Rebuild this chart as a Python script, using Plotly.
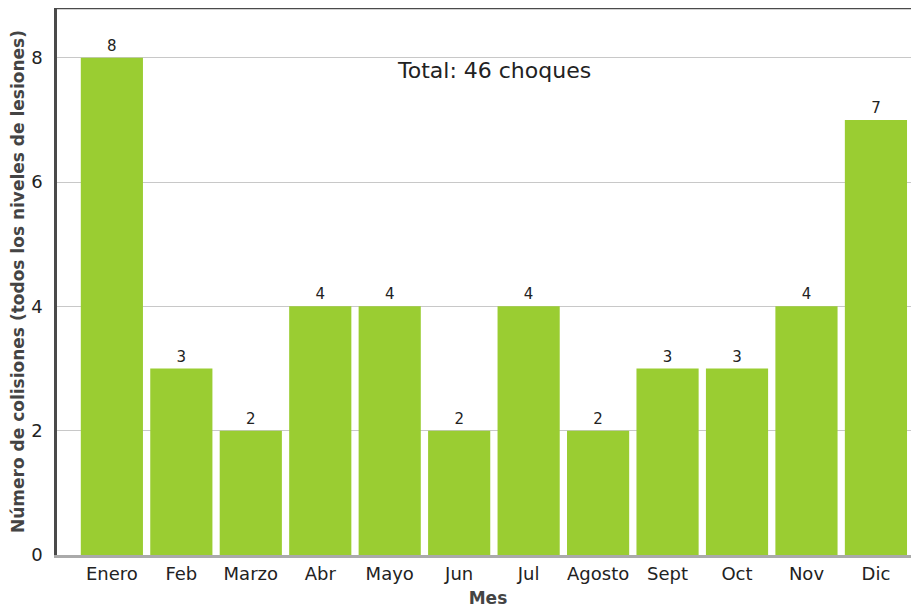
import plotly.graph_objects as go

months = ["Enero", "Feb", "Marzo", "Abr", "Mayo", "Jun", "Jul", "Agosto", "Sept", "Oct", "Nov", "Dic"]
collisions = [8, 3, 2, 4, 4, 2, 4, 2, 3, 3, 4, 7]
y_ticks = [0, 2, 4, 6, 8]
total_label = "Total: 46 choques"
x_title = "Mes"
y_title = "Número de colisiones (todos los niveles de lesiones)"

FONT = "'DejaVu Sans', sans-serif"

fig = go.Figure(go.Bar(
    x=months,
    y=collisions,
    marker=dict(color="#9acd32", line=dict(width=0)),
    text=[str(v) for v in collisions],
    textposition="outside",
    textfont=dict(size=15, color="#222222", family=FONT),
    cliponaxis=False,
))

fig.update_layout(
    width=911,
    height=603,
    margin=dict(l=49, r=0, t=0, b=56, autoexpand=False),
    paper_bgcolor="white",
    plot_bgcolor="white",
    bargap=0.105,
    showlegend=False,
    font=dict(family=FONT, color="#222222"),
    xaxis=dict(
        range=[-0.79, 11.62],
        showline=True,
        linecolor="#aaaaaa",
        linewidth=3,
        showgrid=False,
        ticks="",
        tickfont=dict(size=18, color="#222222", family=FONT),
        title=dict(text="<b>" + x_title + "</b>", font=dict(size=17, color="#444444", family=FONT), standoff=10),
    ),
    yaxis=dict(
        range=[0, 8.8],
        tickvals=y_ticks,
        showline=True,
        linecolor="#4a4a4a",
        linewidth=2.5,
        showgrid=True,
        gridcolor="#c8c8c8",
        gridwidth=1,
        zeroline=False,
        ticks="",
        ticklabelstandoff=8,
        tickfont=dict(size=18, color="#222222", family=FONT),
        title=dict(text="<b>" + y_title + "</b>", font=dict(size=17, color="#444444", family=FONT), standoff=7),
    ),
    shapes=[dict(type="line", xref="paper", yref="paper", x0=0, x1=1, y0=1, y1=1,
                 line=dict(color="#4a4a4a", width=2.5))],
    annotations=[dict(text=total_label, xref="x", yref="y", x=5.5, y=7.8,
                      showarrow=False, font=dict(size=22, color="#222222", family=FONT))],
)

fig.write_html("out.html")
